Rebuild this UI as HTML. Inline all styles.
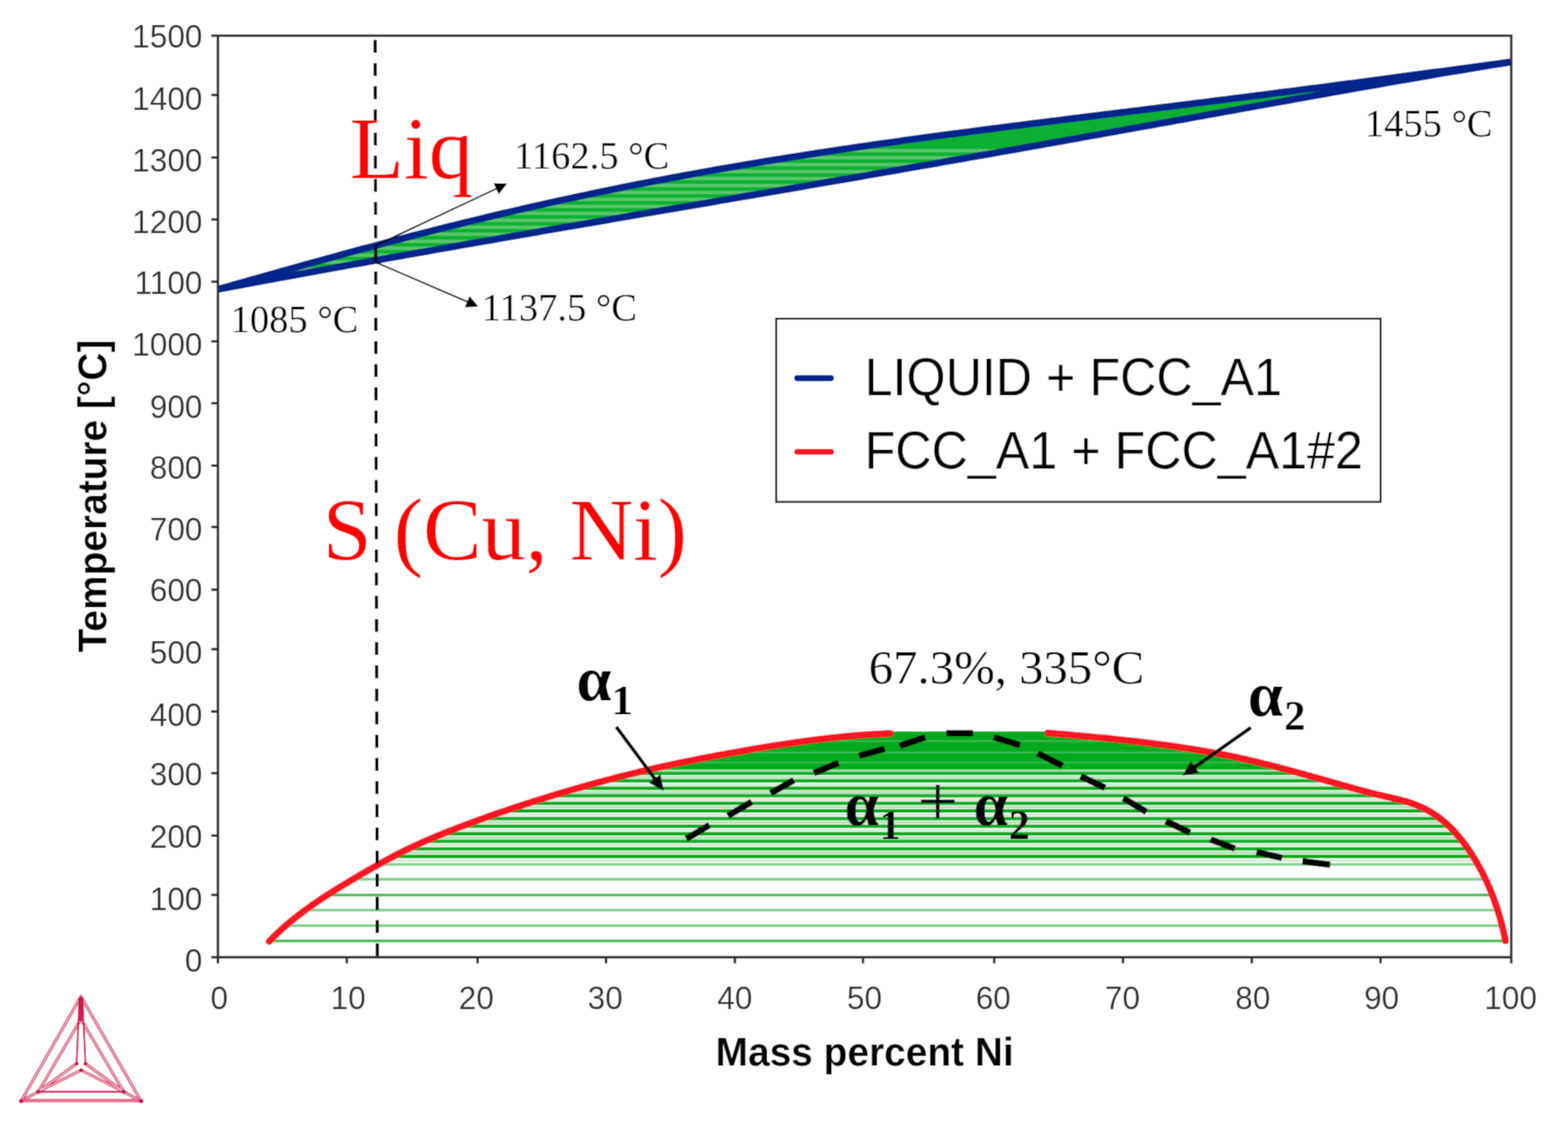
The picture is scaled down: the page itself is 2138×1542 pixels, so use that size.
<!DOCTYPE html><html><head><meta charset="utf-8"><title>Cu-Ni phase diagram</title>
<style>html,body{margin:0;padding:0;background:#fff;}body{width:2138px;height:1542px;overflow:hidden;}svg{display:block;}</style></head><body>
<svg xmlns="http://www.w3.org/2000/svg" width="2138" height="1542" viewBox="0 0 2138 1542">
<rect width="2138" height="1542" fill="#fff"/>
<defs>
<filter id="soft" x="0" y="0" width="2138" height="1542" filterUnits="userSpaceOnUse"><feConvolveMatrix order="3" kernelMatrix="0.04387 0.12171 0.04387 0.12171 0.33767 0.12171 0.04387 0.12171 0.04387" edgeMode="duplicate" preserveAlpha="false"/></filter>
<clipPath id="lensclip"><path d="M297 394.5 L304.38 392.41 L311.75 390.32 L319.13 388.23 L326.51 386.14 L333.88 384.05 L341.26 381.96 L348.64 379.87 L356.01 377.79 L363.39 375.71 L370.77 373.63 L378.14 371.55 L385.52 369.48 L392.9 367.41 L400.27 365.35 L407.65 363.29 L415.03 361.23 L422.4 359.18 L429.78 357.13 L437.15 355.09 L444.53 353.06 L451.91 351.03 L459.28 349.01 L466.66 347 L474.04 344.99 L481.41 342.99 L488.79 340.99 L496.17 339 L503.54 337.03 L510.92 335.05 L518.3 333.09 L525.67 331.14 L533.05 329.19 L540.43 327.25 L547.8 325.32 L555.18 323.4 L562.56 321.49 L569.93 319.59 L577.31 317.7 L584.69 315.82 L592.06 313.95 L599.44 312.08 L606.82 310.23 L614.19 308.39 L621.57 306.56 L628.95 304.73 L636.32 302.92 L643.7 301.12 L651.08 299.33 L658.45 297.55 L665.83 295.78 L673.21 294.02 L680.58 292.28 L687.96 290.54 L695.33 288.82 L702.71 287.1 L710.09 285.4 L717.46 283.71 L724.84 282.03 L732.22 280.36 L739.59 278.7 L746.97 277.05 L754.35 275.42 L761.72 273.8 L769.1 272.18 L776.48 270.58 L783.85 268.99 L791.23 267.41 L798.61 265.85 L805.98 264.29 L813.36 262.75 L820.74 261.22 L828.11 259.69 L835.49 258.18 L842.87 256.68 L850.24 255.2 L857.62 253.72 L865 252.26 L872.37 250.8 L879.75 249.36 L887.13 247.93 L894.5 246.5 L901.88 245.09 L909.26 243.69 L916.63 242.3 L924.01 240.93 L931.38 239.56 L938.76 238.2 L946.14 236.85 L953.51 235.52 L960.89 234.19 L968.27 232.88 L975.64 231.57 L983.02 230.27 L990.4 228.99 L997.77 227.71 L1005.15 226.45 L1012.53 225.19 L1019.9 223.94 L1027.28 222.7 L1034.66 221.48 L1042.03 220.26 L1049.41 219.05 L1056.79 217.85 L1064.16 216.65 L1071.54 215.47 L1078.92 214.29 L1086.29 213.13 L1093.67 211.97 L1101.05 210.82 L1108.42 209.68 L1115.8 208.54 L1123.18 207.42 L1130.55 206.3 L1137.93 205.19 L1145.31 204.08 L1152.68 202.99 L1160.06 201.9 L1167.44 200.81 L1174.81 199.74 L1182.19 198.67 L1189.56 197.61 L1196.94 196.55 L1204.32 195.5 L1211.69 194.46 L1219.07 193.42 L1226.45 192.39 L1233.82 191.37 L1241.2 190.35 L1248.58 189.33 L1255.95 188.32 L1263.33 187.32 L1270.71 186.32 L1278.08 185.33 L1285.46 184.34 L1292.84 183.35 L1300.21 182.37 L1307.59 181.4 L1314.97 180.42 L1322.34 179.46 L1329.72 178.49 L1337.1 177.53 L1344.47 176.57 L1351.85 175.62 L1359.23 174.67 L1366.6 173.72 L1373.98 172.78 L1381.36 171.84 L1388.73 170.9 L1396.11 169.96 L1403.49 169.03 L1410.86 168.09 L1418.24 167.16 L1425.62 166.24 L1432.99 165.31 L1440.37 164.39 L1447.74 163.46 L1455.12 162.54 L1462.5 161.62 L1469.87 160.7 L1477.25 159.79 L1484.63 158.87 L1492 157.95 L1499.38 157.04 L1506.76 156.12 L1514.13 155.21 L1521.51 154.3 L1528.89 153.38 L1536.26 152.47 L1543.64 151.56 L1551.02 150.64 L1558.39 149.73 L1565.77 148.81 L1573.15 147.9 L1580.52 146.99 L1587.9 146.07 L1595.28 145.15 L1602.65 144.24 L1610.03 143.32 L1617.41 142.4 L1624.78 141.48 L1632.16 140.56 L1639.54 139.64 L1646.91 138.71 L1654.29 137.79 L1661.67 136.86 L1669.04 135.94 L1676.42 135.01 L1683.79 134.08 L1691.17 133.14 L1698.55 132.21 L1705.92 131.27 L1713.3 130.34 L1720.68 129.4 L1728.05 128.46 L1735.43 127.51 L1742.81 126.57 L1750.18 125.62 L1757.56 124.67 L1764.94 123.72 L1772.31 122.77 L1779.69 121.81 L1787.07 120.86 L1794.44 119.9 L1801.82 118.94 L1809.2 117.98 L1816.57 117.01 L1823.95 116.05 L1831.33 115.08 L1838.7 114.11 L1846.08 113.14 L1853.46 112.16 L1860.83 111.19 L1868.21 110.21 L1875.59 109.23 L1882.96 108.25 L1890.34 107.27 L1897.72 106.29 L1905.09 105.3 L1912.47 104.31 L1919.85 103.33 L1927.22 102.34 L1934.6 101.35 L1941.97 100.36 L1949.35 99.37 L1956.73 98.38 L1964.1 97.39 L1971.48 96.39 L1978.86 95.4 L1986.23 94.41 L1993.61 93.41 L2000.99 92.42 L2008.36 91.43 L2015.74 90.44 L2023.12 89.44 L2030.49 88.45 L2037.87 87.46 L2045.25 86.47 L2052.62 85.49 L2060 84.5 L2060 84.5 L2052.62 85.69 L2045.25 86.89 L2037.87 88.09 L2030.49 89.29 L2023.12 90.51 L2015.74 91.73 L2008.36 92.95 L2000.99 94.18 L1993.61 95.41 L1986.23 96.65 L1978.86 97.89 L1971.48 99.14 L1964.1 100.39 L1956.73 101.64 L1949.35 102.9 L1941.97 104.17 L1934.6 105.43 L1927.22 106.7 L1919.85 107.98 L1912.47 109.26 L1905.09 110.54 L1897.72 111.82 L1890.34 113.11 L1882.96 114.4 L1875.59 115.69 L1868.21 116.99 L1860.83 118.28 L1853.46 119.58 L1846.08 120.89 L1838.7 122.19 L1831.33 123.5 L1823.95 124.81 L1816.57 126.12 L1809.2 127.43 L1801.82 128.74 L1794.44 130.06 L1787.07 131.38 L1779.69 132.7 L1772.31 134.02 L1764.94 135.34 L1757.56 136.66 L1750.18 137.98 L1742.81 139.31 L1735.43 140.64 L1728.05 141.96 L1720.68 143.29 L1713.3 144.62 L1705.92 145.95 L1698.55 147.28 L1691.17 148.6 L1683.79 149.93 L1676.42 151.27 L1669.04 152.6 L1661.67 153.93 L1654.29 155.26 L1646.91 156.59 L1639.54 157.92 L1632.16 159.25 L1624.78 160.58 L1617.41 161.91 L1610.03 163.25 L1602.65 164.58 L1595.28 165.91 L1587.9 167.24 L1580.52 168.57 L1573.15 169.9 L1565.77 171.22 L1558.39 172.55 L1551.02 173.88 L1543.64 175.21 L1536.26 176.53 L1528.89 177.86 L1521.51 179.19 L1514.13 180.51 L1506.76 181.84 L1499.38 183.16 L1492 184.48 L1484.63 185.8 L1477.25 187.12 L1469.87 188.44 L1462.5 189.76 L1455.12 191.08 L1447.74 192.4 L1440.37 193.71 L1432.99 195.03 L1425.62 196.34 L1418.24 197.66 L1410.86 198.97 L1403.49 200.28 L1396.11 201.59 L1388.73 202.9 L1381.36 204.21 L1373.98 205.51 L1366.6 206.82 L1359.23 208.13 L1351.85 209.43 L1344.47 210.73 L1337.1 212.03 L1329.72 213.33 L1322.34 214.63 L1314.97 215.93 L1307.59 217.23 L1300.21 218.52 L1292.84 219.82 L1285.46 221.11 L1278.08 222.41 L1270.71 223.7 L1263.33 224.99 L1255.95 226.28 L1248.58 227.57 L1241.2 228.85 L1233.82 230.14 L1226.45 231.43 L1219.07 232.71 L1211.69 233.99 L1204.32 235.28 L1196.94 236.56 L1189.56 237.84 L1182.19 239.12 L1174.81 240.4 L1167.44 241.67 L1160.06 242.95 L1152.68 244.23 L1145.31 245.5 L1137.93 246.78 L1130.55 248.05 L1123.18 249.32 L1115.8 250.59 L1108.42 251.87 L1101.05 253.14 L1093.67 254.41 L1086.29 255.68 L1078.92 256.94 L1071.54 258.21 L1064.16 259.48 L1056.79 260.75 L1049.41 262.01 L1042.03 263.28 L1034.66 264.54 L1027.28 265.81 L1019.9 267.07 L1012.53 268.34 L1005.15 269.6 L997.77 270.86 L990.4 272.13 L983.02 273.39 L975.64 274.65 L968.27 275.91 L960.89 277.18 L953.51 278.44 L946.14 279.7 L938.76 280.96 L931.38 282.22 L924.01 283.48 L916.63 284.75 L909.26 286.01 L901.88 287.27 L894.5 288.53 L887.13 289.79 L879.75 291.06 L872.37 292.32 L865 293.58 L857.62 294.85 L850.24 296.11 L842.87 297.37 L835.49 298.64 L828.11 299.9 L820.74 301.17 L813.36 302.44 L805.98 303.7 L798.61 304.97 L791.23 306.24 L783.85 307.51 L776.48 308.78 L769.1 310.05 L761.72 311.32 L754.35 312.59 L746.97 313.86 L739.59 315.14 L732.22 316.41 L724.84 317.69 L717.46 318.96 L710.09 320.24 L702.71 321.52 L695.33 322.8 L687.96 324.08 L680.58 325.36 L673.21 326.65 L665.83 327.93 L658.45 329.22 L651.08 330.5 L643.7 331.79 L636.32 333.08 L628.95 334.37 L621.57 335.67 L614.19 336.96 L606.82 338.26 L599.44 339.56 L592.06 340.86 L584.69 342.16 L577.31 343.46 L569.93 344.77 L562.56 346.07 L555.18 347.38 L547.8 348.69 L540.43 350 L533.05 351.32 L525.67 352.63 L518.3 353.95 L510.92 355.27 L503.54 356.59 L496.17 357.91 L488.79 359.24 L481.41 360.57 L474.04 361.9 L466.66 363.23 L459.28 364.56 L451.91 365.9 L444.53 367.24 L437.15 368.58 L429.78 369.92 L422.4 371.27 L415.03 372.61 L407.65 373.96 L400.27 375.32 L392.9 376.67 L385.52 378.03 L378.14 379.39 L370.77 380.75 L363.39 382.11 L356.01 383.48 L348.64 384.85 L341.26 386.22 L333.88 387.59 L326.51 388.97 L319.13 390.35 L311.75 391.73 L304.38 393.11 L297 394.5 Z"/></clipPath>
<clipPath id="gapclip"><path d="M366.95 1283.56 L369.07 1281.36 L371.21 1279.18 L373.36 1277.02 L375.54 1274.88 L377.73 1272.77 L379.94 1270.68 L382.17 1268.61 L384.41 1266.57 L386.67 1264.54 L388.95 1262.54 L391.24 1260.55 L393.55 1258.59 L395.88 1256.64 L398.21 1254.71 L400.57 1252.8 L402.94 1250.91 L405.32 1249.04 L407.71 1247.18 L410.12 1245.34 L412.54 1243.52 L414.97 1241.71 L417.41 1239.91 L419.87 1238.13 L422.33 1236.37 L424.81 1234.62 L427.3 1232.88 L429.79 1231.16 L432.3 1229.45 L434.82 1227.75 L437.34 1226.06 L439.87 1224.38 L442.41 1222.72 L444.96 1221.06 L447.52 1219.42 L450.08 1217.78 L452.65 1216.15 L455.22 1214.54 L457.8 1212.93 L460.39 1211.32 L462.98 1209.73 L465.57 1208.14 L468.17 1206.56 L470.78 1204.98 L473.38 1203.41 L475.99 1201.85 L478.6 1200.29 L481.22 1198.73 L483.84 1197.18 L486.45 1195.63 L489.07 1194.08 L491.7 1192.54 L494.32 1191.01 L496.95 1189.47 L499.58 1187.95 L502.21 1186.43 L504.84 1184.91 L507.48 1183.4 L510.12 1181.9 L512.77 1180.41 L515.42 1178.92 L518.07 1177.44 L520.72 1175.97 L523.38 1174.51 L526.05 1173.06 L528.72 1171.61 L531.39 1170.18 L534.07 1168.76 L536.75 1167.34 L539.44 1165.94 L542.13 1164.55 L544.83 1163.17 L547.54 1161.8 L550.24 1160.45 L552.96 1159.1 L555.68 1157.77 L558.41 1156.45 L561.15 1155.15 L563.89 1153.86 L566.63 1152.59 L569.39 1151.32 L572.15 1150.07 L574.91 1148.83 L577.68 1147.61 L580.46 1146.39 L583.24 1145.19 L586.03 1143.99 L588.82 1142.81 L591.62 1141.64 L594.42 1140.47 L597.22 1139.31 L600.03 1138.16 L602.84 1137.02 L605.66 1135.89 L608.47 1134.76 L611.3 1133.64 L614.12 1132.53 L616.95 1131.42 L619.78 1130.32 L622.61 1129.22 L625.45 1128.13 L628.29 1127.05 L631.13 1125.97 L633.98 1124.9 L636.82 1123.83 L639.67 1122.77 L642.53 1121.71 L645.38 1120.66 L648.24 1119.62 L651.1 1118.58 L653.96 1117.54 L656.82 1116.52 L659.68 1115.49 L662.55 1114.47 L665.42 1113.46 L668.29 1112.45 L671.16 1111.44 L674.04 1110.44 L676.91 1109.45 L679.79 1108.45 L682.67 1107.47 L685.55 1106.48 L688.43 1105.51 L691.31 1104.53 L694.19 1103.56 L697.08 1102.6 L699.96 1101.63 L702.85 1100.68 L705.74 1099.72 L708.63 1098.77 L711.52 1097.83 L714.41 1096.88 L717.3 1095.95 L720.19 1095.01 L723.08 1094.08 L725.98 1093.16 L728.87 1092.23 L731.77 1091.32 L734.67 1090.4 L737.57 1089.49 L740.47 1088.59 L743.37 1087.69 L746.27 1086.79 L749.17 1085.89 L752.08 1085.01 L754.98 1084.12 L757.89 1083.24 L760.79 1082.36 L763.7 1081.49 L766.61 1080.62 L769.52 1079.76 L772.43 1078.9 L775.35 1078.04 L778.26 1077.19 L781.17 1076.34 L784.09 1075.5 L787.01 1074.66 L789.92 1073.83 L792.84 1073 L795.76 1072.17 L798.69 1071.35 L801.61 1070.54 L804.53 1069.72 L807.46 1068.92 L810.38 1068.11 L813.31 1067.31 L816.24 1066.52 L819.17 1065.73 L822.1 1064.94 L825.03 1064.16 L827.96 1063.39 L830.9 1062.62 L833.83 1061.85 L836.77 1061.08 L839.71 1060.33 L842.65 1059.57 L845.59 1058.82 L848.53 1058.08 L851.47 1057.34 L854.42 1056.6 L857.36 1055.87 L860.31 1055.15 L863.26 1054.42 L866.21 1053.71 L869.16 1053 L872.11 1052.29 L875.06 1051.59 L878.02 1050.89 L880.97 1050.19 L883.93 1049.51 L886.89 1048.82 L889.85 1048.14 L892.81 1047.47 L895.77 1046.8 L898.73 1046.13 L901.7 1045.47 L904.66 1044.82 L907.63 1044.17 L910.6 1043.52 L913.57 1042.88 L916.54 1042.25 L919.51 1041.62 L922.49 1040.99 L925.46 1040.37 L928.44 1039.75 L931.41 1039.14 L934.39 1038.53 L937.37 1037.92 L940.35 1037.32 L943.33 1036.72 L946.31 1036.13 L949.29 1035.54 L952.28 1034.95 L955.26 1034.37 L958.25 1033.79 L961.23 1033.21 L964.22 1032.64 L967.21 1032.07 L970.19 1031.51 L973.18 1030.95 L976.17 1030.39 L979.16 1029.83 L982.15 1029.28 L985.14 1028.73 L988.13 1028.18 L991.12 1027.63 L994.11 1027.09 L997.1 1026.55 L1000.09 1026.01 L1003.09 1025.48 L1006.08 1024.95 L1009.07 1024.42 L1012.06 1023.89 L1015.06 1023.37 L1018.05 1022.85 L1021.04 1022.33 L1024.04 1021.81 L1027.03 1021.3 L1030.03 1020.79 L1033.02 1020.29 L1036.02 1019.78 L1039.02 1019.29 L1042.01 1018.79 L1045.01 1018.3 L1048.01 1017.81 L1051.01 1017.33 L1054 1016.85 L1057 1016.38 L1060 1015.91 L1063 1015.44 L1066 1014.98 L1069 1014.53 L1072.01 1014.07 L1075.01 1013.63 L1078.01 1013.18 L1081.01 1012.75 L1084.02 1012.32 L1087.02 1011.89 L1090.03 1011.47 L1093.04 1011.05 L1096.04 1010.64 L1099.05 1010.24 L1102.06 1009.84 L1105.07 1009.44 L1108.08 1009.05 L1111.09 1008.67 L1114.1 1008.3 L1117.11 1007.93 L1120.13 1007.57 L1123.14 1007.21 L1126.15 1006.86 L1129.17 1006.51 L1132.19 1006.18 L1135.2 1005.85 L1138.22 1005.52 L1141.24 1005.21 L1144.26 1004.9 L1147.28 1004.6 L1150.3 1004.3 L1153.33 1004.02 L1156.35 1003.74 L1159.38 1003.46 L1162.4 1003.2 L1165.43 1002.94 L1168.46 1002.69 L1171.49 1002.45 L1174.52 1002.22 L1177.55 1002 L1180.58 1001.78 L1183.61 1001.57 L1186.65 1001.37 L1189.68 1001.18 L1192.72 1001 L1195.76 1000.83 L1198.8 1000.66 L1201.84 1000.51 L1204.88 1000.36 L1207.93 1000.22 L1210.97 1000.09 L1214.01 999.98 L1214 997.3 L1428.3 997.3 L1428.33 999.22 L1430.8 999.44 L1433.27 999.65 L1435.75 999.87 L1438.22 1000.09 L1440.69 1000.3 L1443.17 1000.52 L1445.64 1000.74 L1448.11 1000.95 L1450.59 1001.17 L1453.07 1001.39 L1455.54 1001.61 L1458.02 1001.83 L1460.49 1002.05 L1462.97 1002.27 L1465.45 1002.49 L1467.92 1002.71 L1470.4 1002.94 L1472.88 1003.16 L1475.36 1003.39 L1477.84 1003.62 L1480.31 1003.84 L1482.79 1004.07 L1485.27 1004.3 L1487.75 1004.54 L1490.23 1004.77 L1492.71 1005.01 L1495.19 1005.24 L1497.67 1005.48 L1500.15 1005.72 L1502.62 1005.96 L1505.1 1006.2 L1507.58 1006.45 L1510.06 1006.7 L1512.54 1006.94 L1515.02 1007.19 L1517.5 1007.45 L1519.98 1007.7 L1522.46 1007.96 L1524.93 1008.22 L1527.41 1008.48 L1529.89 1008.74 L1532.37 1009.01 L1534.85 1009.28 L1537.32 1009.55 L1539.8 1009.82 L1542.28 1010.1 L1544.76 1010.37 L1547.23 1010.65 L1549.71 1010.94 L1552.18 1011.22 L1554.66 1011.51 L1557.13 1011.81 L1559.61 1012.1 L1562.08 1012.4 L1564.56 1012.7 L1567.03 1013 L1569.5 1013.31 L1571.98 1013.62 L1574.45 1013.94 L1576.92 1014.25 L1579.39 1014.57 L1581.86 1014.9 L1584.33 1015.23 L1586.8 1015.56 L1589.27 1015.89 L1591.74 1016.23 L1594.21 1016.57 L1596.67 1016.92 L1599.14 1017.27 L1601.61 1017.62 L1604.07 1017.98 L1606.54 1018.34 L1609 1018.71 L1611.46 1019.08 L1613.92 1019.45 L1616.39 1019.83 L1618.85 1020.21 L1621.31 1020.6 L1623.77 1020.99 L1626.22 1021.38 L1628.68 1021.78 L1631.14 1022.19 L1633.59 1022.6 L1636.05 1023.01 L1638.5 1023.43 L1640.95 1023.85 L1643.41 1024.28 L1645.86 1024.71 L1648.31 1025.15 L1650.76 1025.59 L1653.2 1026.04 L1655.65 1026.49 L1658.1 1026.95 L1660.54 1027.41 L1662.98 1027.88 L1665.43 1028.36 L1667.87 1028.83 L1670.31 1029.32 L1672.75 1029.81 L1675.18 1030.31 L1677.62 1030.81 L1680.06 1031.31 L1682.49 1031.83 L1684.92 1032.34 L1687.36 1032.87 L1689.79 1033.4 L1692.22 1033.93 L1694.64 1034.47 L1697.07 1035.02 L1699.5 1035.57 L1701.92 1036.12 L1704.34 1036.69 L1706.77 1037.25 L1709.19 1037.82 L1711.61 1038.4 L1714.03 1038.98 L1716.45 1039.56 L1718.86 1040.15 L1721.28 1040.74 L1723.7 1041.34 L1726.11 1041.94 L1728.52 1042.54 L1730.94 1043.15 L1733.35 1043.76 L1735.76 1044.38 L1738.17 1045 L1740.58 1045.62 L1742.99 1046.25 L1745.39 1046.88 L1747.8 1047.51 L1750.21 1048.15 L1752.61 1048.79 L1755.02 1049.43 L1757.42 1050.07 L1759.82 1050.72 L1762.23 1051.37 L1764.63 1052.02 L1767.03 1052.67 L1769.43 1053.33 L1771.83 1053.99 L1774.23 1054.65 L1776.63 1055.31 L1779.03 1055.97 L1781.43 1056.64 L1783.82 1057.31 L1786.22 1057.98 L1788.62 1058.65 L1791.01 1059.32 L1793.41 1059.99 L1795.81 1060.66 L1798.2 1061.34 L1800.6 1062.01 L1802.99 1062.69 L1805.38 1063.37 L1807.78 1064.04 L1810.17 1064.72 L1812.57 1065.4 L1814.96 1066.08 L1817.35 1066.76 L1819.74 1067.44 L1822.14 1068.12 L1824.53 1068.79 L1826.92 1069.47 L1829.31 1070.15 L1831.71 1070.83 L1834.1 1071.51 L1836.49 1072.18 L1838.88 1072.86 L1841.27 1073.53 L1843.67 1074.2 L1846.06 1074.87 L1848.45 1075.54 L1850.85 1076.2 L1853.25 1076.86 L1855.65 1077.51 L1858.05 1078.16 L1860.45 1078.8 L1862.86 1079.44 L1865.27 1080.07 L1867.68 1080.69 L1870.1 1081.31 L1872.52 1081.91 L1874.94 1082.51 L1877.37 1083.1 L1879.8 1083.68 L1882.23 1084.25 L1884.67 1084.82 L1887.11 1085.37 L1889.55 1085.93 L1892 1086.48 L1894.44 1087.04 L1896.88 1087.6 L1899.32 1088.16 L1901.75 1088.74 L1904.18 1089.32 L1906.6 1089.92 L1909.02 1090.54 L1911.43 1091.17 L1913.82 1091.83 L1916.21 1092.5 L1918.59 1093.21 L1920.96 1093.94 L1923.31 1094.7 L1925.64 1095.49 L1927.97 1096.32 L1930.27 1097.19 L1932.56 1098.1 L1934.83 1099.05 L1937.08 1100.04 L1939.31 1101.07 L1941.52 1102.14 L1943.71 1103.25 L1945.89 1104.4 L1948.04 1105.59 L1950.16 1106.82 L1952.27 1108.09 L1954.36 1109.39 L1956.42 1110.74 L1958.46 1112.12 L1960.47 1113.54 L1962.46 1115 L1964.43 1116.49 L1966.37 1118.03 L1968.29 1119.59 L1970.18 1121.2 L1972.04 1122.84 L1973.88 1124.51 L1975.7 1126.22 L1977.48 1127.96 L1979.25 1129.73 L1980.98 1131.53 L1982.7 1133.36 L1984.39 1135.21 L1986.05 1137.09 L1987.69 1138.99 L1989.31 1140.92 L1990.91 1142.86 L1992.48 1144.83 L1994.03 1146.81 L1995.56 1148.81 L1997.07 1150.82 L1998.56 1152.85 L2000.02 1154.89 L2001.47 1156.95 L2002.9 1159.01 L2004.3 1161.09 L2005.69 1163.17 L2007.05 1165.27 L2008.4 1167.38 L2009.72 1169.49 L2011.03 1171.62 L2012.32 1173.76 L2013.59 1175.91 L2014.83 1178.06 L2016.06 1180.23 L2017.27 1182.41 L2018.46 1184.6 L2019.63 1186.79 L2020.79 1189 L2021.92 1191.21 L2023.04 1193.43 L2024.14 1195.66 L2025.21 1197.9 L2026.28 1200.15 L2027.32 1202.4 L2028.34 1204.67 L2029.35 1206.94 L2030.34 1209.22 L2031.31 1211.5 L2032.27 1213.8 L2033.2 1216.1 L2034.12 1218.4 L2035.03 1220.72 L2035.91 1223.04 L2036.78 1225.37 L2037.63 1227.7 L2038.47 1230.04 L2039.28 1232.39 L2040.09 1234.74 L2040.87 1237.1 L2041.64 1239.46 L2042.39 1241.83 L2043.13 1244.21 L2043.85 1246.59 L2044.55 1248.97 L2045.24 1251.36 L2045.92 1253.75 L2046.58 1256.15 L2047.22 1258.56 L2047.85 1260.96 L2048.46 1263.37 L2049.06 1265.79 L2049.64 1268.21 L2050.21 1270.63 L2050.76 1273.06 L2051.3 1275.49 L2051.82 1277.92 L2052.33 1280.36 L2052.82 1282.79 L2052.9 1285 L367 1285 Z"/></clipPath>
</defs>
<g filter="url(#soft)">
<rect width="2138" height="1542" fill="#fff"/>
<g clip-path="url(#lensclip)">
<rect x="297" y="80" width="1765" height="320" fill="#0cb030"/>
<rect x="297" y="203.2" width="1765" height="4.4" fill="#5ac66a"/>
<rect x="297" y="212.7" width="1765" height="4.4" fill="#5ac66a"/>
<rect x="297" y="222.2" width="1765" height="4.4" fill="#5ac66a"/>
<rect x="297" y="231.7" width="1765" height="4.4" fill="#5ac66a"/>
<rect x="297" y="241.2" width="1765" height="4.4" fill="#5ac66a"/>
<rect x="297" y="250.7" width="1765" height="4.4" fill="#5ac66a"/>
<rect x="297" y="260.2" width="1765" height="4.4" fill="#5ac66a"/>
<rect x="297" y="269.7" width="1765" height="4.4" fill="#5ac66a"/>
<rect x="297" y="279.2" width="1765" height="4.4" fill="#5ac66a"/>
<rect x="297" y="288.7" width="1765" height="4.4" fill="#5ac66a"/>
<rect x="297" y="298.2" width="1765" height="4.4" fill="#5ac66a"/>
<rect x="297" y="307.7" width="1765" height="4.4" fill="#5ac66a"/>
<rect x="297" y="317.2" width="1765" height="4.4" fill="#5ac66a"/>
<rect x="297" y="326.7" width="1765" height="4.4" fill="#5ac66a"/>
<rect x="297" y="336.2" width="1765" height="4.4" fill="#5ac66a"/>
<rect x="297" y="345.7" width="1765" height="4.4" fill="#5ac66a"/>
<rect x="297" y="355.2" width="1765" height="4.4" fill="#5ac66a"/>
<rect x="297" y="364.7" width="1765" height="4.4" fill="#5ac66a"/>
<rect x="297" y="374.2" width="1765" height="4.4" fill="#5ac66a"/>
<rect x="297" y="383.7" width="1765" height="4.4" fill="#5ac66a"/>
<rect x="297" y="393.2" width="1765" height="4.4" fill="#5ac66a"/>
</g>
<g clip-path="url(#gapclip)">
<rect x="360" y="990" width="1700" height="59.6" fill="#04aa1e"/>
<rect x="360" y="1049.6" width="1700" height="2.4" fill="#a8dcb0"/>
<rect x="360" y="1009.4" width="1700" height="2" fill="#3cbc52"/>
<rect x="360" y="1024.8" width="1700" height="2" fill="#3cbc52"/>
<rect x="360" y="1038.6" width="1700" height="2" fill="#3cbc52"/>
<rect x="360" y="1165.3" width="1700" height="4.8" fill="#02aa18"/>
<rect x="360" y="1171.3" width="1700" height="3.4" fill="#d4eed6"/>
<rect x="360" y="1154.9" width="1700" height="4.8" fill="#0cae2c"/>
<rect x="360" y="1160.9" width="1700" height="3.4" fill="#b4e2b8"/>
<rect x="360" y="1144.6" width="1700" height="4.8" fill="#0cae2c"/>
<rect x="360" y="1150.6" width="1700" height="3.4" fill="#d4eed6"/>
<rect x="360" y="1134.4" width="1700" height="4.8" fill="#02aa18"/>
<rect x="360" y="1140.4" width="1700" height="3.4" fill="#b4e2b8"/>
<rect x="360" y="1124.1" width="1700" height="4.8" fill="#0cae2c"/>
<rect x="360" y="1130.1" width="1700" height="3.4" fill="#d4eed6"/>
<rect x="360" y="1113.7" width="1700" height="4.8" fill="#0cae2c"/>
<rect x="360" y="1119.7" width="1700" height="3.4" fill="#b4e2b8"/>
<rect x="360" y="1103.2" width="1700" height="4.8" fill="#02aa18"/>
<rect x="360" y="1109.2" width="1700" height="3.4" fill="#d4eed6"/>
<rect x="360" y="1092.8" width="1700" height="4.8" fill="#0cae2c"/>
<rect x="360" y="1098.8" width="1700" height="3.4" fill="#b4e2b8"/>
<rect x="360" y="1082.5" width="1700" height="4.8" fill="#0cae2c"/>
<rect x="360" y="1088.5" width="1700" height="3.4" fill="#d4eed6"/>
<rect x="360" y="1072.4" width="1700" height="4.8" fill="#02aa18"/>
<rect x="360" y="1078.4" width="1700" height="3.4" fill="#b4e2b8"/>
<rect x="360" y="1062.2" width="1700" height="4.8" fill="#0cae2c"/>
<rect x="360" y="1068.2" width="1700" height="3.4" fill="#d4eed6"/>
<rect x="360" y="1052.1" width="1700" height="4.8" fill="#0cae2c"/>
<rect x="360" y="1058.1" width="1700" height="3.4" fill="#b4e2b8"/>
<rect x="360" y="1280.9" width="1700" height="3.8" fill="#46ba58"/>
<rect x="360" y="1260.1" width="1700" height="3.8" fill="#82d190"/>
<rect x="360" y="1238.9" width="1700" height="3.8" fill="#82d190"/>
<rect x="360" y="1218.4" width="1700" height="3.8" fill="#4cbc5c"/>
<rect x="360" y="1196.8" width="1700" height="3.8" fill="#7ccf8b"/>
<rect x="360" y="1176.6" width="1700" height="3.8" fill="#86d394"/>
</g>
<path d="M297 394.5 L304.38 392.41 L311.75 390.32 L319.13 388.23 L326.51 386.14 L333.88 384.05 L341.26 381.96 L348.64 379.87 L356.01 377.79 L363.39 375.71 L370.77 373.63 L378.14 371.55 L385.52 369.48 L392.9 367.41 L400.27 365.35 L407.65 363.29 L415.03 361.23 L422.4 359.18 L429.78 357.13 L437.15 355.09 L444.53 353.06 L451.91 351.03 L459.28 349.01 L466.66 347 L474.04 344.99 L481.41 342.99 L488.79 340.99 L496.17 339 L503.54 337.03 L510.92 335.05 L518.3 333.09 L525.67 331.14 L533.05 329.19 L540.43 327.25 L547.8 325.32 L555.18 323.4 L562.56 321.49 L569.93 319.59 L577.31 317.7 L584.69 315.82 L592.06 313.95 L599.44 312.08 L606.82 310.23 L614.19 308.39 L621.57 306.56 L628.95 304.73 L636.32 302.92 L643.7 301.12 L651.08 299.33 L658.45 297.55 L665.83 295.78 L673.21 294.02 L680.58 292.28 L687.96 290.54 L695.33 288.82 L702.71 287.1 L710.09 285.4 L717.46 283.71 L724.84 282.03 L732.22 280.36 L739.59 278.7 L746.97 277.05 L754.35 275.42 L761.72 273.8 L769.1 272.18 L776.48 270.58 L783.85 268.99 L791.23 267.41 L798.61 265.85 L805.98 264.29 L813.36 262.75 L820.74 261.22 L828.11 259.69 L835.49 258.18 L842.87 256.68 L850.24 255.2 L857.62 253.72 L865 252.26 L872.37 250.8 L879.75 249.36 L887.13 247.93 L894.5 246.5 L901.88 245.09 L909.26 243.69 L916.63 242.3 L924.01 240.93 L931.38 239.56 L938.76 238.2 L946.14 236.85 L953.51 235.52 L960.89 234.19 L968.27 232.88 L975.64 231.57 L983.02 230.27 L990.4 228.99 L997.77 227.71 L1005.15 226.45 L1012.53 225.19 L1019.9 223.94 L1027.28 222.7 L1034.66 221.48 L1042.03 220.26 L1049.41 219.05 L1056.79 217.85 L1064.16 216.65 L1071.54 215.47 L1078.92 214.29 L1086.29 213.13 L1093.67 211.97 L1101.05 210.82 L1108.42 209.68 L1115.8 208.54 L1123.18 207.42 L1130.55 206.3 L1137.93 205.19 L1145.31 204.08 L1152.68 202.99 L1160.06 201.9 L1167.44 200.81 L1174.81 199.74 L1182.19 198.67 L1189.56 197.61 L1196.94 196.55 L1204.32 195.5 L1211.69 194.46 L1219.07 193.42 L1226.45 192.39 L1233.82 191.37 L1241.2 190.35 L1248.58 189.33 L1255.95 188.32 L1263.33 187.32 L1270.71 186.32 L1278.08 185.33 L1285.46 184.34 L1292.84 183.35 L1300.21 182.37 L1307.59 181.4 L1314.97 180.42 L1322.34 179.46 L1329.72 178.49 L1337.1 177.53 L1344.47 176.57 L1351.85 175.62 L1359.23 174.67 L1366.6 173.72 L1373.98 172.78 L1381.36 171.84 L1388.73 170.9 L1396.11 169.96 L1403.49 169.03 L1410.86 168.09 L1418.24 167.16 L1425.62 166.24 L1432.99 165.31 L1440.37 164.39 L1447.74 163.46 L1455.12 162.54 L1462.5 161.62 L1469.87 160.7 L1477.25 159.79 L1484.63 158.87 L1492 157.95 L1499.38 157.04 L1506.76 156.12 L1514.13 155.21 L1521.51 154.3 L1528.89 153.38 L1536.26 152.47 L1543.64 151.56 L1551.02 150.64 L1558.39 149.73 L1565.77 148.81 L1573.15 147.9 L1580.52 146.99 L1587.9 146.07 L1595.28 145.15 L1602.65 144.24 L1610.03 143.32 L1617.41 142.4 L1624.78 141.48 L1632.16 140.56 L1639.54 139.64 L1646.91 138.71 L1654.29 137.79 L1661.67 136.86 L1669.04 135.94 L1676.42 135.01 L1683.79 134.08 L1691.17 133.14 L1698.55 132.21 L1705.92 131.27 L1713.3 130.34 L1720.68 129.4 L1728.05 128.46 L1735.43 127.51 L1742.81 126.57 L1750.18 125.62 L1757.56 124.67 L1764.94 123.72 L1772.31 122.77 L1779.69 121.81 L1787.07 120.86 L1794.44 119.9 L1801.82 118.94 L1809.2 117.98 L1816.57 117.01 L1823.95 116.05 L1831.33 115.08 L1838.7 114.11 L1846.08 113.14 L1853.46 112.16 L1860.83 111.19 L1868.21 110.21 L1875.59 109.23 L1882.96 108.25 L1890.34 107.27 L1897.72 106.29 L1905.09 105.3 L1912.47 104.31 L1919.85 103.33 L1927.22 102.34 L1934.6 101.35 L1941.97 100.36 L1949.35 99.37 L1956.73 98.38 L1964.1 97.39 L1971.48 96.39 L1978.86 95.4 L1986.23 94.41 L1993.61 93.41 L2000.99 92.42 L2008.36 91.43 L2015.74 90.44 L2023.12 89.44 L2030.49 88.45 L2037.87 87.46 L2045.25 86.47 L2052.62 85.49 L2060 84.5" fill="none" stroke="#06268c" stroke-width="9.6" stroke-linejoin="round"/>
<path d="M297 394.5 L304.38 393.11 L311.75 391.73 L319.13 390.35 L326.51 388.97 L333.88 387.59 L341.26 386.22 L348.64 384.85 L356.01 383.48 L363.39 382.11 L370.77 380.75 L378.14 379.39 L385.52 378.03 L392.9 376.67 L400.27 375.32 L407.65 373.96 L415.03 372.61 L422.4 371.27 L429.78 369.92 L437.15 368.58 L444.53 367.24 L451.91 365.9 L459.28 364.56 L466.66 363.23 L474.04 361.9 L481.41 360.57 L488.79 359.24 L496.17 357.91 L503.54 356.59 L510.92 355.27 L518.3 353.95 L525.67 352.63 L533.05 351.32 L540.43 350 L547.8 348.69 L555.18 347.38 L562.56 346.07 L569.93 344.77 L577.31 343.46 L584.69 342.16 L592.06 340.86 L599.44 339.56 L606.82 338.26 L614.19 336.96 L621.57 335.67 L628.95 334.37 L636.32 333.08 L643.7 331.79 L651.08 330.5 L658.45 329.22 L665.83 327.93 L673.21 326.65 L680.58 325.36 L687.96 324.08 L695.33 322.8 L702.71 321.52 L710.09 320.24 L717.46 318.96 L724.84 317.69 L732.22 316.41 L739.59 315.14 L746.97 313.86 L754.35 312.59 L761.72 311.32 L769.1 310.05 L776.48 308.78 L783.85 307.51 L791.23 306.24 L798.61 304.97 L805.98 303.7 L813.36 302.44 L820.74 301.17 L828.11 299.9 L835.49 298.64 L842.87 297.37 L850.24 296.11 L857.62 294.85 L865 293.58 L872.37 292.32 L879.75 291.06 L887.13 289.79 L894.5 288.53 L901.88 287.27 L909.26 286.01 L916.63 284.75 L924.01 283.48 L931.38 282.22 L938.76 280.96 L946.14 279.7 L953.51 278.44 L960.89 277.18 L968.27 275.91 L975.64 274.65 L983.02 273.39 L990.4 272.13 L997.77 270.86 L1005.15 269.6 L1012.53 268.34 L1019.9 267.07 L1027.28 265.81 L1034.66 264.54 L1042.03 263.28 L1049.41 262.01 L1056.79 260.75 L1064.16 259.48 L1071.54 258.21 L1078.92 256.94 L1086.29 255.68 L1093.67 254.41 L1101.05 253.14 L1108.42 251.87 L1115.8 250.59 L1123.18 249.32 L1130.55 248.05 L1137.93 246.78 L1145.31 245.5 L1152.68 244.23 L1160.06 242.95 L1167.44 241.67 L1174.81 240.4 L1182.19 239.12 L1189.56 237.84 L1196.94 236.56 L1204.32 235.28 L1211.69 233.99 L1219.07 232.71 L1226.45 231.43 L1233.82 230.14 L1241.2 228.85 L1248.58 227.57 L1255.95 226.28 L1263.33 224.99 L1270.71 223.7 L1278.08 222.41 L1285.46 221.11 L1292.84 219.82 L1300.21 218.52 L1307.59 217.23 L1314.97 215.93 L1322.34 214.63 L1329.72 213.33 L1337.1 212.03 L1344.47 210.73 L1351.85 209.43 L1359.23 208.13 L1366.6 206.82 L1373.98 205.51 L1381.36 204.21 L1388.73 202.9 L1396.11 201.59 L1403.49 200.28 L1410.86 198.97 L1418.24 197.66 L1425.62 196.34 L1432.99 195.03 L1440.37 193.71 L1447.74 192.4 L1455.12 191.08 L1462.5 189.76 L1469.87 188.44 L1477.25 187.12 L1484.63 185.8 L1492 184.48 L1499.38 183.16 L1506.76 181.84 L1514.13 180.51 L1521.51 179.19 L1528.89 177.86 L1536.26 176.53 L1543.64 175.21 L1551.02 173.88 L1558.39 172.55 L1565.77 171.22 L1573.15 169.9 L1580.52 168.57 L1587.9 167.24 L1595.28 165.91 L1602.65 164.58 L1610.03 163.25 L1617.41 161.91 L1624.78 160.58 L1632.16 159.25 L1639.54 157.92 L1646.91 156.59 L1654.29 155.26 L1661.67 153.93 L1669.04 152.6 L1676.42 151.27 L1683.79 149.93 L1691.17 148.6 L1698.55 147.28 L1705.92 145.95 L1713.3 144.62 L1720.68 143.29 L1728.05 141.96 L1735.43 140.64 L1742.81 139.31 L1750.18 137.98 L1757.56 136.66 L1764.94 135.34 L1772.31 134.02 L1779.69 132.7 L1787.07 131.38 L1794.44 130.06 L1801.82 128.74 L1809.2 127.43 L1816.57 126.12 L1823.95 124.81 L1831.33 123.5 L1838.7 122.19 L1846.08 120.89 L1853.46 119.58 L1860.83 118.28 L1868.21 116.99 L1875.59 115.69 L1882.96 114.4 L1890.34 113.11 L1897.72 111.82 L1905.09 110.54 L1912.47 109.26 L1919.85 107.98 L1927.22 106.7 L1934.6 105.43 L1941.97 104.17 L1949.35 102.9 L1956.73 101.64 L1964.1 100.39 L1971.48 99.14 L1978.86 97.89 L1986.23 96.65 L1993.61 95.41 L2000.99 94.18 L2008.36 92.95 L2015.74 91.73 L2023.12 90.51 L2030.49 89.29 L2037.87 88.09 L2045.25 86.89 L2052.62 85.69 L2060 84.5" fill="none" stroke="#06268c" stroke-width="9.6" stroke-linejoin="round"/>
<path d="M366.95 1283.56 L369.07 1281.36 L371.21 1279.18 L373.36 1277.02 L375.54 1274.88 L377.73 1272.77 L379.94 1270.68 L382.17 1268.61 L384.41 1266.57 L386.67 1264.54 L388.95 1262.54 L391.24 1260.55 L393.55 1258.59 L395.88 1256.64 L398.21 1254.71 L400.57 1252.8 L402.94 1250.91 L405.32 1249.04 L407.71 1247.18 L410.12 1245.34 L412.54 1243.52 L414.97 1241.71 L417.41 1239.91 L419.87 1238.13 L422.33 1236.37 L424.81 1234.62 L427.3 1232.88 L429.79 1231.16 L432.3 1229.45 L434.82 1227.75 L437.34 1226.06 L439.87 1224.38 L442.41 1222.72 L444.96 1221.06 L447.52 1219.42 L450.08 1217.78 L452.65 1216.15 L455.22 1214.54 L457.8 1212.93 L460.39 1211.32 L462.98 1209.73 L465.57 1208.14 L468.17 1206.56 L470.78 1204.98 L473.38 1203.41 L475.99 1201.85 L478.6 1200.29 L481.22 1198.73 L483.84 1197.18 L486.45 1195.63 L489.07 1194.08 L491.7 1192.54 L494.32 1191.01 L496.95 1189.47 L499.58 1187.95 L502.21 1186.43 L504.84 1184.91 L507.48 1183.4 L510.12 1181.9 L512.77 1180.41 L515.42 1178.92 L518.07 1177.44 L520.72 1175.97 L523.38 1174.51 L526.05 1173.06 L528.72 1171.61 L531.39 1170.18 L534.07 1168.76 L536.75 1167.34 L539.44 1165.94 L542.13 1164.55 L544.83 1163.17 L547.54 1161.8 L550.24 1160.45 L552.96 1159.1 L555.68 1157.77 L558.41 1156.45 L561.15 1155.15 L563.89 1153.86 L566.63 1152.59 L569.39 1151.32 L572.15 1150.07 L574.91 1148.83 L577.68 1147.61 L580.46 1146.39 L583.24 1145.19 L586.03 1143.99 L588.82 1142.81 L591.62 1141.64 L594.42 1140.47 L597.22 1139.31 L600.03 1138.16 L602.84 1137.02 L605.66 1135.89 L608.47 1134.76 L611.3 1133.64 L614.12 1132.53 L616.95 1131.42 L619.78 1130.32 L622.61 1129.22 L625.45 1128.13 L628.29 1127.05 L631.13 1125.97 L633.98 1124.9 L636.82 1123.83 L639.67 1122.77 L642.53 1121.71 L645.38 1120.66 L648.24 1119.62 L651.1 1118.58 L653.96 1117.54 L656.82 1116.52 L659.68 1115.49 L662.55 1114.47 L665.42 1113.46 L668.29 1112.45 L671.16 1111.44 L674.04 1110.44 L676.91 1109.45 L679.79 1108.45 L682.67 1107.47 L685.55 1106.48 L688.43 1105.51 L691.31 1104.53 L694.19 1103.56 L697.08 1102.6 L699.96 1101.63 L702.85 1100.68 L705.74 1099.72 L708.63 1098.77 L711.52 1097.83 L714.41 1096.88 L717.3 1095.95 L720.19 1095.01 L723.08 1094.08 L725.98 1093.16 L728.87 1092.23 L731.77 1091.32 L734.67 1090.4 L737.57 1089.49 L740.47 1088.59 L743.37 1087.69 L746.27 1086.79 L749.17 1085.89 L752.08 1085.01 L754.98 1084.12 L757.89 1083.24 L760.79 1082.36 L763.7 1081.49 L766.61 1080.62 L769.52 1079.76 L772.43 1078.9 L775.35 1078.04 L778.26 1077.19 L781.17 1076.34 L784.09 1075.5 L787.01 1074.66 L789.92 1073.83 L792.84 1073 L795.76 1072.17 L798.69 1071.35 L801.61 1070.54 L804.53 1069.72 L807.46 1068.92 L810.38 1068.11 L813.31 1067.31 L816.24 1066.52 L819.17 1065.73 L822.1 1064.94 L825.03 1064.16 L827.96 1063.39 L830.9 1062.62 L833.83 1061.85 L836.77 1061.08 L839.71 1060.33 L842.65 1059.57 L845.59 1058.82 L848.53 1058.08 L851.47 1057.34 L854.42 1056.6 L857.36 1055.87 L860.31 1055.15 L863.26 1054.42 L866.21 1053.71 L869.16 1053 L872.11 1052.29 L875.06 1051.59 L878.02 1050.89 L880.97 1050.19 L883.93 1049.51 L886.89 1048.82 L889.85 1048.14 L892.81 1047.47 L895.77 1046.8 L898.73 1046.13 L901.7 1045.47 L904.66 1044.82 L907.63 1044.17 L910.6 1043.52 L913.57 1042.88 L916.54 1042.25 L919.51 1041.62 L922.49 1040.99 L925.46 1040.37 L928.44 1039.75 L931.41 1039.14 L934.39 1038.53 L937.37 1037.92 L940.35 1037.32 L943.33 1036.72 L946.31 1036.13 L949.29 1035.54 L952.28 1034.95 L955.26 1034.37 L958.25 1033.79 L961.23 1033.21 L964.22 1032.64 L967.21 1032.07 L970.19 1031.51 L973.18 1030.95 L976.17 1030.39 L979.16 1029.83 L982.15 1029.28 L985.14 1028.73 L988.13 1028.18 L991.12 1027.63 L994.11 1027.09 L997.1 1026.55 L1000.09 1026.01 L1003.09 1025.48 L1006.08 1024.95 L1009.07 1024.42 L1012.06 1023.89 L1015.06 1023.37 L1018.05 1022.85 L1021.04 1022.33 L1024.04 1021.81 L1027.03 1021.3 L1030.03 1020.79 L1033.02 1020.29 L1036.02 1019.78 L1039.02 1019.29 L1042.01 1018.79 L1045.01 1018.3 L1048.01 1017.81 L1051.01 1017.33 L1054 1016.85 L1057 1016.38 L1060 1015.91 L1063 1015.44 L1066 1014.98 L1069 1014.53 L1072.01 1014.07 L1075.01 1013.63 L1078.01 1013.18 L1081.01 1012.75 L1084.02 1012.32 L1087.02 1011.89 L1090.03 1011.47 L1093.04 1011.05 L1096.04 1010.64 L1099.05 1010.24 L1102.06 1009.84 L1105.07 1009.44 L1108.08 1009.05 L1111.09 1008.67 L1114.1 1008.3 L1117.11 1007.93 L1120.13 1007.57 L1123.14 1007.21 L1126.15 1006.86 L1129.17 1006.51 L1132.19 1006.18 L1135.2 1005.85 L1138.22 1005.52 L1141.24 1005.21 L1144.26 1004.9 L1147.28 1004.6 L1150.3 1004.3 L1153.33 1004.02 L1156.35 1003.74 L1159.38 1003.46 L1162.4 1003.2 L1165.43 1002.94 L1168.46 1002.69 L1171.49 1002.45 L1174.52 1002.22 L1177.55 1002 L1180.58 1001.78 L1183.61 1001.57 L1186.65 1001.37 L1189.68 1001.18 L1192.72 1001 L1195.76 1000.83 L1198.8 1000.66 L1201.84 1000.51 L1204.88 1000.36 L1207.93 1000.22 L1210.97 1000.09 L1214.01 999.98" fill="none" stroke="#ff1224" stroke-width="9.2" stroke-linecap="round" stroke-linejoin="round"/>
<path d="M1428.33 999.22 L1430.8 999.44 L1433.27 999.65 L1435.75 999.87 L1438.22 1000.09 L1440.69 1000.3 L1443.17 1000.52 L1445.64 1000.74 L1448.11 1000.95 L1450.59 1001.17 L1453.07 1001.39 L1455.54 1001.61 L1458.02 1001.83 L1460.49 1002.05 L1462.97 1002.27 L1465.45 1002.49 L1467.92 1002.71 L1470.4 1002.94 L1472.88 1003.16 L1475.36 1003.39 L1477.84 1003.62 L1480.31 1003.84 L1482.79 1004.07 L1485.27 1004.3 L1487.75 1004.54 L1490.23 1004.77 L1492.71 1005.01 L1495.19 1005.24 L1497.67 1005.48 L1500.15 1005.72 L1502.62 1005.96 L1505.1 1006.2 L1507.58 1006.45 L1510.06 1006.7 L1512.54 1006.94 L1515.02 1007.19 L1517.5 1007.45 L1519.98 1007.7 L1522.46 1007.96 L1524.93 1008.22 L1527.41 1008.48 L1529.89 1008.74 L1532.37 1009.01 L1534.85 1009.28 L1537.32 1009.55 L1539.8 1009.82 L1542.28 1010.1 L1544.76 1010.37 L1547.23 1010.65 L1549.71 1010.94 L1552.18 1011.22 L1554.66 1011.51 L1557.13 1011.81 L1559.61 1012.1 L1562.08 1012.4 L1564.56 1012.7 L1567.03 1013 L1569.5 1013.31 L1571.98 1013.62 L1574.45 1013.94 L1576.92 1014.25 L1579.39 1014.57 L1581.86 1014.9 L1584.33 1015.23 L1586.8 1015.56 L1589.27 1015.89 L1591.74 1016.23 L1594.21 1016.57 L1596.67 1016.92 L1599.14 1017.27 L1601.61 1017.62 L1604.07 1017.98 L1606.54 1018.34 L1609 1018.71 L1611.46 1019.08 L1613.92 1019.45 L1616.39 1019.83 L1618.85 1020.21 L1621.31 1020.6 L1623.77 1020.99 L1626.22 1021.38 L1628.68 1021.78 L1631.14 1022.19 L1633.59 1022.6 L1636.05 1023.01 L1638.5 1023.43 L1640.95 1023.85 L1643.41 1024.28 L1645.86 1024.71 L1648.31 1025.15 L1650.76 1025.59 L1653.2 1026.04 L1655.65 1026.49 L1658.1 1026.95 L1660.54 1027.41 L1662.98 1027.88 L1665.43 1028.36 L1667.87 1028.83 L1670.31 1029.32 L1672.75 1029.81 L1675.18 1030.31 L1677.62 1030.81 L1680.06 1031.31 L1682.49 1031.83 L1684.92 1032.34 L1687.36 1032.87 L1689.79 1033.4 L1692.22 1033.93 L1694.64 1034.47 L1697.07 1035.02 L1699.5 1035.57 L1701.92 1036.12 L1704.34 1036.69 L1706.77 1037.25 L1709.19 1037.82 L1711.61 1038.4 L1714.03 1038.98 L1716.45 1039.56 L1718.86 1040.15 L1721.28 1040.74 L1723.7 1041.34 L1726.11 1041.94 L1728.52 1042.54 L1730.94 1043.15 L1733.35 1043.76 L1735.76 1044.38 L1738.17 1045 L1740.58 1045.62 L1742.99 1046.25 L1745.39 1046.88 L1747.8 1047.51 L1750.21 1048.15 L1752.61 1048.79 L1755.02 1049.43 L1757.42 1050.07 L1759.82 1050.72 L1762.23 1051.37 L1764.63 1052.02 L1767.03 1052.67 L1769.43 1053.33 L1771.83 1053.99 L1774.23 1054.65 L1776.63 1055.31 L1779.03 1055.97 L1781.43 1056.64 L1783.82 1057.31 L1786.22 1057.98 L1788.62 1058.65 L1791.01 1059.32 L1793.41 1059.99 L1795.81 1060.66 L1798.2 1061.34 L1800.6 1062.01 L1802.99 1062.69 L1805.38 1063.37 L1807.78 1064.04 L1810.17 1064.72 L1812.57 1065.4 L1814.96 1066.08 L1817.35 1066.76 L1819.74 1067.44 L1822.14 1068.12 L1824.53 1068.79 L1826.92 1069.47 L1829.31 1070.15 L1831.71 1070.83 L1834.1 1071.51 L1836.49 1072.18 L1838.88 1072.86 L1841.27 1073.53 L1843.67 1074.2 L1846.06 1074.87 L1848.45 1075.54 L1850.85 1076.2 L1853.25 1076.86 L1855.65 1077.51 L1858.05 1078.16 L1860.45 1078.8 L1862.86 1079.44 L1865.27 1080.07 L1867.68 1080.69 L1870.1 1081.31 L1872.52 1081.91 L1874.94 1082.51 L1877.37 1083.1 L1879.8 1083.68 L1882.23 1084.25 L1884.67 1084.82 L1887.11 1085.37 L1889.55 1085.93 L1892 1086.48 L1894.44 1087.04 L1896.88 1087.6 L1899.32 1088.16 L1901.75 1088.74 L1904.18 1089.32 L1906.6 1089.92 L1909.02 1090.54 L1911.43 1091.17 L1913.82 1091.83 L1916.21 1092.5 L1918.59 1093.21 L1920.96 1093.94 L1923.31 1094.7 L1925.64 1095.49 L1927.97 1096.32 L1930.27 1097.19 L1932.56 1098.1 L1934.83 1099.05 L1937.08 1100.04 L1939.31 1101.07 L1941.52 1102.14 L1943.71 1103.25 L1945.89 1104.4 L1948.04 1105.59 L1950.16 1106.82 L1952.27 1108.09 L1954.36 1109.39 L1956.42 1110.74 L1958.46 1112.12 L1960.47 1113.54 L1962.46 1115 L1964.43 1116.49 L1966.37 1118.03 L1968.29 1119.59 L1970.18 1121.2 L1972.04 1122.84 L1973.88 1124.51 L1975.7 1126.22 L1977.48 1127.96 L1979.25 1129.73 L1980.98 1131.53 L1982.7 1133.36 L1984.39 1135.21 L1986.05 1137.09 L1987.69 1138.99 L1989.31 1140.92 L1990.91 1142.86 L1992.48 1144.83 L1994.03 1146.81 L1995.56 1148.81 L1997.07 1150.82 L1998.56 1152.85 L2000.02 1154.89 L2001.47 1156.95 L2002.9 1159.01 L2004.3 1161.09 L2005.69 1163.17 L2007.05 1165.27 L2008.4 1167.38 L2009.72 1169.49 L2011.03 1171.62 L2012.32 1173.76 L2013.59 1175.91 L2014.83 1178.06 L2016.06 1180.23 L2017.27 1182.41 L2018.46 1184.6 L2019.63 1186.79 L2020.79 1189 L2021.92 1191.21 L2023.04 1193.43 L2024.14 1195.66 L2025.21 1197.9 L2026.28 1200.15 L2027.32 1202.4 L2028.34 1204.67 L2029.35 1206.94 L2030.34 1209.22 L2031.31 1211.5 L2032.27 1213.8 L2033.2 1216.1 L2034.12 1218.4 L2035.03 1220.72 L2035.91 1223.04 L2036.78 1225.37 L2037.63 1227.7 L2038.47 1230.04 L2039.28 1232.39 L2040.09 1234.74 L2040.87 1237.1 L2041.64 1239.46 L2042.39 1241.83 L2043.13 1244.21 L2043.85 1246.59 L2044.55 1248.97 L2045.24 1251.36 L2045.92 1253.75 L2046.58 1256.15 L2047.22 1258.56 L2047.85 1260.96 L2048.46 1263.37 L2049.06 1265.79 L2049.64 1268.21 L2050.21 1270.63 L2050.76 1273.06 L2051.3 1275.49 L2051.82 1277.92 L2052.33 1280.36 L2052.82 1282.79" fill="none" stroke="#ff1224" stroke-width="9.2" stroke-linecap="round" stroke-linejoin="round"/>
<g stroke="#000" stroke-width="8.6">
<line x1="935.8" y1="1143.8" x2="967.3" y2="1124.9"/>
<line x1="992.6" y1="1112.2" x2="1024.9" y2="1093.3"/>
<line x1="1050.8" y1="1081.4" x2="1082.4" y2="1063.8"/>
<line x1="1109.8" y1="1054" x2="1143.4" y2="1040"/>
<line x1="1171.3" y1="1030.3" x2="1206.3" y2="1020.8"/>
<line x1="1226.9" y1="1016.9" x2="1261.7" y2="1005.2"/>
<line x1="1290.4" y1="999.8" x2="1326.8" y2="999.8"/>
<line x1="1354.9" y1="1005.2" x2="1390.8" y2="1015.8"/>
<line x1="1415" y1="1027" x2="1448.6" y2="1044.2"/>
<line x1="1473.6" y1="1058.3" x2="1506.6" y2="1074"/>
<line x1="1531.6" y1="1088.1" x2="1563" y2="1106.9"/>
<line x1="1589.6" y1="1119.5" x2="1622.5" y2="1135.1"/>
<line x1="1650.7" y1="1144.5" x2="1683.6" y2="1157.1"/>
<line x1="1713.4" y1="1161.8" x2="1747.9" y2="1169.6"/>
<line x1="1776" y1="1174.3" x2="1813.7" y2="1179"/>
</g>
<line x1="511.5" y1="54.4" x2="514.5" y2="1305" stroke="#000" stroke-width="4.3" stroke-dasharray="17.6 13.98"/>
<line x1="512.2" y1="334" x2="512.2" y2="358" stroke="#000" stroke-width="3"/>
<g stroke="#2e2e2e" stroke-width="3.4" fill="none">
<rect x="297.2" y="48.6" width="1763.4" height="1256.5"/>
<line x1="288" y1="48.6" x2="297.2" y2="48.6"/>
<line x1="288" y1="129.5" x2="297.2" y2="129.5"/>
<line x1="288" y1="214.7" x2="297.2" y2="214.7"/>
<line x1="288" y1="299.3" x2="297.2" y2="299.3"/>
<line x1="288" y1="384.1" x2="297.2" y2="384.1"/>
<line x1="288" y1="465.4" x2="297.2" y2="465.4"/>
<line x1="288" y1="549.7" x2="297.2" y2="549.7"/>
<line x1="288" y1="634.8" x2="297.2" y2="634.8"/>
<line x1="288" y1="718.5" x2="297.2" y2="718.5"/>
<line x1="288" y1="803.9" x2="297.2" y2="803.9"/>
<line x1="288" y1="885.1" x2="297.2" y2="885.1"/>
<line x1="288" y1="970.1" x2="297.2" y2="970.1"/>
<line x1="288" y1="1054.2" x2="297.2" y2="1054.2"/>
<line x1="288" y1="1139.3" x2="297.2" y2="1139.3"/>
<line x1="288" y1="1220.1" x2="297.2" y2="1220.1"/>
<line x1="288" y1="1305.1" x2="297.2" y2="1305.1"/>
<line x1="297.2" y1="1305.1" x2="297.2" y2="1313.5"/>
<line x1="472.8" y1="1305.1" x2="472.8" y2="1313.5"/>
<line x1="651.3" y1="1305.1" x2="651.3" y2="1313.5"/>
<line x1="826.4" y1="1305.1" x2="826.4" y2="1313.5"/>
<line x1="1002" y1="1305.1" x2="1002" y2="1313.5"/>
<line x1="1176.7" y1="1305.1" x2="1176.7" y2="1313.5"/>
<line x1="1355.6" y1="1305.1" x2="1355.6" y2="1313.5"/>
<line x1="1531.2" y1="1305.1" x2="1531.2" y2="1313.5"/>
<line x1="1706.8" y1="1305.1" x2="1706.8" y2="1313.5"/>
<line x1="1882.4" y1="1305.1" x2="1882.4" y2="1313.5"/>
<line x1="2060.6" y1="1305.1" x2="2060.6" y2="1313.5"/>
</g>
<g font-family="Liberation Sans, Arial, sans-serif" font-size="43" fill="#333">
<text x="276" y="0" text-anchor="end" transform="translate(0 64.6) scale(1 1.04)">1500</text>
<text x="276" y="0" text-anchor="end" transform="translate(0 149.5) scale(1 1.04)">1400</text>
<text x="276" y="0" text-anchor="end" transform="translate(0 233.8) scale(1 1.04)">1300</text>
<text x="276" y="0" text-anchor="end" transform="translate(0 317.5) scale(1 1.04)">1200</text>
<text x="276" y="0" text-anchor="end" transform="translate(0 400.5) scale(1 1.04)">1100</text>
<text x="276" y="0" text-anchor="end" transform="translate(0 485.1) scale(1 1.04)">1000</text>
<text x="276" y="0" text-anchor="end" transform="translate(0 570.1) scale(1 1.04)">900</text>
<text x="276" y="0" text-anchor="end" transform="translate(0 653.1) scale(1 1.04)">800</text>
<text x="276" y="0" text-anchor="end" transform="translate(0 736.7) scale(1 1.04)">700</text>
<text x="276" y="0" text-anchor="end" transform="translate(0 820.4) scale(1 1.04)">600</text>
<text x="276" y="0" text-anchor="end" transform="translate(0 904.7) scale(1 1.04)">500</text>
<text x="276" y="0" text-anchor="end" transform="translate(0 989.6) scale(1 1.04)">400</text>
<text x="276" y="0" text-anchor="end" transform="translate(0 1071.4) scale(1 1.04)">300</text>
<text x="276" y="0" text-anchor="end" transform="translate(0 1155.6) scale(1 1.04)">200</text>
<text x="276" y="0" text-anchor="end" transform="translate(0 1241.1) scale(1 1.04)">100</text>
<text x="276" y="0" text-anchor="end" transform="translate(0 1325.3) scale(1 1.04)">0</text>
<text x="299" y="0" text-anchor="middle" transform="translate(0 1375.6) scale(1 1.04)">0</text>
<text x="474.7" y="0" text-anchor="middle" transform="translate(0 1375.6) scale(1 1.04)">10</text>
<text x="649.4" y="0" text-anchor="middle" transform="translate(0 1375.6) scale(1 1.04)">20</text>
<text x="825.2" y="0" text-anchor="middle" transform="translate(0 1375.6) scale(1 1.04)">30</text>
<text x="1001.9" y="0" text-anchor="middle" transform="translate(0 1375.6) scale(1 1.04)">40</text>
<text x="1178.7" y="0" text-anchor="middle" transform="translate(0 1375.6) scale(1 1.04)">50</text>
<text x="1354.3" y="0" text-anchor="middle" transform="translate(0 1375.6) scale(1 1.04)">60</text>
<text x="1530.5" y="0" text-anchor="middle" transform="translate(0 1375.6) scale(1 1.04)">70</text>
<text x="1708.2" y="0" text-anchor="middle" transform="translate(0 1375.6) scale(1 1.04)">80</text>
<text x="1883.8" y="0" text-anchor="middle" transform="translate(0 1375.6) scale(1 1.04)">90</text>
<text x="2059.7" y="0" text-anchor="middle" transform="translate(0 1375.6) scale(1 1.04)">100</text>
</g>
<text x="1179" y="0" transform="translate(0 1453) scale(1 1.04)" text-anchor="middle" font-family="Liberation Sans, Arial, sans-serif" font-weight="bold" font-size="53" fill="#000">Mass percent Ni</text>
<text x="0" y="0" transform="translate(144.8,676.3) rotate(-90) scale(1 1.04)" text-anchor="middle" font-family="Liberation Sans, Arial, sans-serif" font-weight="bold" font-size="53" fill="#000">Temperature [°C]</text>
<rect x="1058.3" y="434.4" width="824.2" height="249.8" fill="none" stroke="#262626" stroke-width="2.8"/>
<line x1="1087" y1="515.6" x2="1133" y2="515.6" stroke="#00238c" stroke-width="8.2" stroke-linecap="round"/>
<line x1="1087" y1="616" x2="1133" y2="616" stroke="#ff1224" stroke-width="8.2" stroke-linecap="round"/>
<g font-family="Liberation Sans, Arial, sans-serif" font-size="68.5" fill="#000">
<text x="1179" y="0" transform="translate(0 538.8) scale(1 1.045)">LIQUID + FCC_A1</text>
<text x="1179" y="0" transform="translate(0 638.8) scale(1 1.045)">FCC_A1 + FCC_A1#2</text>
</g>
<g font-family="Liberation Serif, Times New Roman, serif" fill="#000">
<text x="1861" y="185.5" font-size="52.5">1455 °C</text>
<text x="701" y="229.5" font-size="52.5">1162.5 °C</text>
<text x="314.5" y="453" font-size="52.5">1085 °C</text>
<text x="657" y="436.5" font-size="52.5">1137.5 °C</text>
<text x="1184.5" y="932" font-size="66.5">67.3%, 335°C</text>
</g>
<g font-family="Liberation Serif, Times New Roman, serif" fill="#ff0000" font-size="121">
<text x="477" y="243">Liq</text>
<text x="440" y="762.5" font-size="120">S (Cu, Ni)</text>
</g>
<g font-family="Liberation Serif, Times New Roman, serif" fill="#000" font-weight="bold">
<text x="786" y="955" font-size="86">α</text><text x="834" y="973.5" font-size="58">1</text>
<text x="1701.5" y="976" font-size="86">α</text><text x="1751" y="994.5" font-size="58">2</text>
<text x="1151.5" y="1124.5" font-size="84">α</text><text x="1199.5" y="1143.5" font-size="57">1</text>
<text x="1251" y="1124.5" font-size="98" font-weight="normal">+</text>
<text x="1327.5" y="1124.5" font-size="84">α</text><text x="1375.5" y="1143.5" font-size="57">2</text>
</g>
<line x1="511.7" y1="335" x2="677.48" y2="256.81" stroke="#000" stroke-width="2"/><path d="M691.5 250.2 L680.12 264.75 L673.04 249.73 Z" fill="#000"/>
<line x1="511.7" y1="357.3" x2="637.97" y2="411.76" stroke="#000" stroke-width="2"/><path d="M652.2 417.9 L633.76 418.99 L640.34 403.74 Z" fill="#000"/>
<line x1="840.3" y1="991" x2="893.35" y2="1062.39" stroke="#000" stroke-width="4.7"/><path d="M905.1 1078.2 L885.17 1067.22 L900.34 1055.95 Z" fill="#000"/>
<line x1="1705.6" y1="992" x2="1628.51" y2="1046.26" stroke="#000" stroke-width="4.7"/><path d="M1612.4 1057.6 L1623.89 1037.96 L1634.77 1053.41 Z" fill="#000"/>
<path d="M110.3 1358.5 L28.8 1501.2 M110.3 1358.5 L192.4 1501.2 M110.3 1389.5 L52.2 1488.5 M110.3 1389.5 L168.6 1488.5 M28.8 1501.2 L52.2 1488.5 M192.4 1501.2 L168.6 1488.5 M104.5 1450 L52.2 1488.5 M116.5 1450 L168.6 1488.5 M110.6 1459 L52.2 1488.5 M110.6 1459 L168.6 1488.5 " fill="none" stroke="#d0164c" stroke-width="4.2" stroke-linecap="round" opacity="0.85"/>
<path d="M110.3 1358.5 L28.8 1501.2 M110.3 1358.5 L192.4 1501.2 M110.3 1389.5 L52.2 1488.5 M110.3 1389.5 L168.6 1488.5 M28.8 1501.2 L52.2 1488.5 M192.4 1501.2 L168.6 1488.5 M104.5 1450 L52.2 1488.5 M116.5 1450 L168.6 1488.5 M110.6 1459 L52.2 1488.5 M110.6 1459 L168.6 1488.5 " fill="none" stroke="#fff" stroke-width="1.3" opacity="0.8"/>
<path d="M108.3 1361 L104.5 1450 M112.3 1361 L116.5 1450 " fill="none" stroke="#d0164c" stroke-width="2.4"/>
<path d="M110.3 1359 L110.3 1392" stroke="#d0164c" stroke-width="4"/>
<path d="M52.2 1488.5 L168.6 1488.5 " fill="none" stroke="#d0164c" stroke-width="3" opacity="0.85"/>
<path d="M30 1500.6 L191 1500.6 " fill="none" stroke="#dd5a80" stroke-width="5" opacity="0.85"/>
<g fill="#d0164c"><circle cx="104.5" cy="1450" r="2.6"/><circle cx="116.5" cy="1450" r="2.6"/><circle cx="110.6" cy="1459" r="2.6"/><circle cx="28.8" cy="1501.2" r="3"/><circle cx="192.4" cy="1501.2" r="3"/><circle cx="52.2" cy="1488.5" r="3"/><circle cx="168.6" cy="1488.5" r="3"/></g>
</g>
</svg></body></html>
